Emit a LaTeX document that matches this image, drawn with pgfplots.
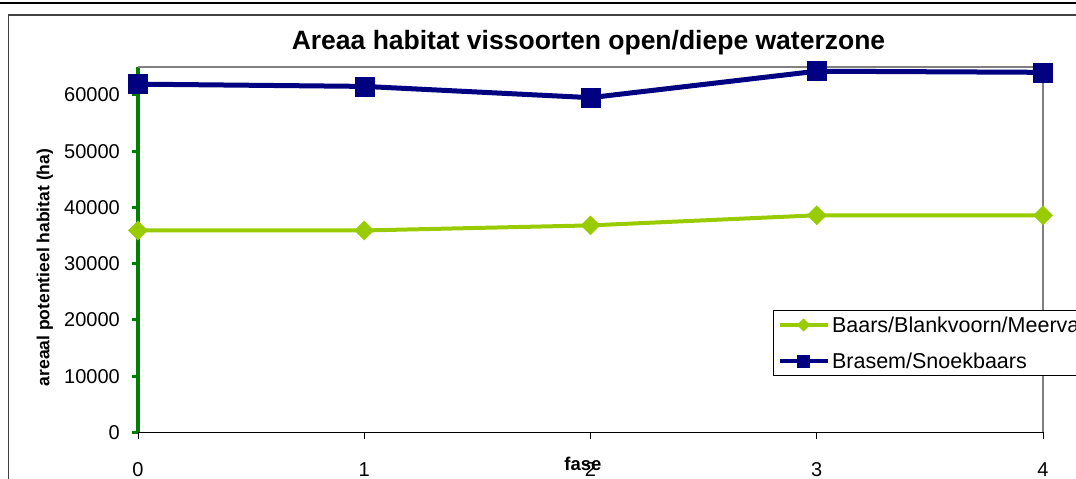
\documentclass[border=0pt]{standalone}
\usepackage{pgfplots}
\pgfplotsset{compat=1.18}
\usepackage{fontspec}
\setmainfont{Liberation Sans}
\definecolor{navy}{RGB}{0,0,128}
\definecolor{lime}{RGB}{153,204,0}
\definecolor{axgreen}{RGB}{0,128,0}
\begin{document}
\begin{tikzpicture}[x=1pt,y=1pt]
\useasboundingbox (0,0) rectangle (1076,479);
\clip (0,0) rectangle (1076,479);
\draw[black, line width=2pt] (0,475.5) -- (1076,475.5);
\draw[black!75, line width=1.6pt] (8.5,-10) -- (8.5,464) -- (1090,464);
\node[font=\fontsize{26.5}{30}\selectfont\bfseries, anchor=base] at (588.5,429.5) {Areaa habitat vissoorten open/diepe waterzone};
\begin{axis}[
  scale only axis,
  width=905pt, height=365.8pt,
  at={(138pt,46.5pt)}, anchor=south west,
  xmin=0, xmax=4, ymin=0, ymax=65000,
  xtick={0,1,2,3,4},
  ytick={0,10000,20000,30000,40000,50000,60000},
  scaled y ticks=false,
  /pgf/number format/1000 sep={},
  /pgf/number format/assume math mode=true,
  axis x line*=bottom, axis y line*=left,
  x axis line style={black, line width=1.2pt, -},
  y axis line style={axgreen, line width=3.5pt, -},
  tick align=outside,
  major tick length=6pt,
  xtick style={black, line width=1pt},
  ytick style={axgreen, line width=3pt},
  xtick pos=bottom, ytick pos=left,
  tick label style={font=\fontsize{20}{24}\selectfont},
  yticklabel style={anchor=east, inner sep=0pt, xshift=-12pt},
  xticklabel style={anchor=base, inner sep=0pt, yshift=-37.5pt},
  clip=false,
  xlabel={fase},
  ylabel={areaal potentieel habitat (ha)},
  xlabel style={font=\fontsize{18.5}{22}\selectfont\bfseries, at={(axis description cs:0.4917,-0.1039)}, anchor=base},
  ylabel style={font=\fontsize{17.5}{21}\selectfont\bfseries, at={(axis description cs:-0.1028,0.451)}, anchor=center},
  legend style={at={(axis description cs:0.7017,0.335)}, anchor=north west,
    draw=black, line width=1pt, font=\fontsize{21.5}{25}\selectfont,
    inner xsep=4pt, inner ysep=6pt, row sep=19pt,
    nodes={inner xsep=2.5pt, inner ysep=0pt}},
  legend cell align=left,
  legend image code/.code={
    \draw[#1, mark=none, line width=4pt] (0pt,0pt) -- (48pt,0pt);
    \draw[#1, only marks, mark size=0.65*\pgfplotmarksize] plot coordinates {(24pt,0pt)};},
]
\draw[gray, line width=2pt] (axis cs:0,65000) -- (axis cs:4,65000) -- (axis cs:4,0);
\addplot[lime, line width=4pt, mark=square*, mark size=6.7pt, mark options={rotate=45, line width=0.5pt, fill=lime}]
  coordinates {(0,35900) (1,35900) (2,36800) (3,38600) (4,38600)};
\addlegendentry{Baars/Blankvoorn/Meerval}
\addplot[navy, line width=5pt, mark=square*, mark size=9.5pt, mark options={line width=0.5pt, fill=navy}]
  coordinates {(0,61900) (1,61500) (2,59500) (3,64200) (4,64000)};
\addlegendentry{Brasem/Snoekbaars}
\end{axis}
\end{tikzpicture}
\end{document}
